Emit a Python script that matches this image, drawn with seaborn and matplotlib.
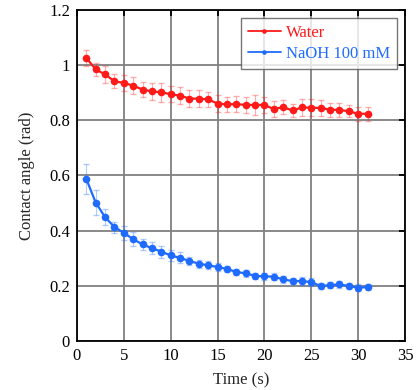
import numpy as np
import pandas as pd
import matplotlib
matplotlib.use("Agg")
import matplotlib.pyplot as plt
import seaborn as sns

time_s = list(range(1, 32))
water = [1.027, 0.985, 0.967, 0.942, 0.936, 0.926, 0.912, 0.905, 0.902, 0.895,
         0.890, 0.879, 0.879, 0.876, 0.861, 0.858, 0.859, 0.856, 0.856, 0.856,
         0.841, 0.848, 0.836, 0.847, 0.846, 0.845, 0.839, 0.838, 0.833, 0.824,
         0.824]
water_err = [0.030, 0.025, 0.030, 0.025, 0.028, 0.030, 0.028, 0.030, 0.035, 0.030,
             0.030, 0.030, 0.030, 0.028, 0.030, 0.028, 0.030, 0.030, 0.035, 0.028,
             0.028, 0.025, 0.025, 0.030, 0.030, 0.028, 0.025, 0.025, 0.022, 0.025,
             0.025]
naoh = [0.588, 0.502, 0.449, 0.413, 0.392, 0.369, 0.350, 0.336, 0.324, 0.310,
        0.301, 0.290, 0.280, 0.274, 0.268, 0.261, 0.250, 0.245, 0.236, 0.234,
        0.233, 0.223, 0.217, 0.217, 0.213, 0.199, 0.202, 0.205, 0.199, 0.193,
        0.195]
naoh_err = [0.055, 0.045, 0.030, 0.020, 0.025, 0.025, 0.020, 0.022, 0.022, 0.020,
            0.020, 0.015, 0.015, 0.015, 0.015, 0.012, 0.012, 0.012, 0.012, 0.012,
            0.012, 0.012, 0.010, 0.015, 0.015, 0.012, 0.012, 0.012, 0.010, 0.012,
            0.012]

red = "#ff1a1a"
blue = "#1f6bff"

df = pd.DataFrame({
    "Time (s)": time_s * 2,
    "Contact angle (rad)": water + naoh,
    "series": ["Water"] * len(time_s) + ["NaOH 100 mM"] * len(time_s),
})

sns.set_style("white")
plt.rcParams["font.family"] = ["Liberation Serif", "DejaVu Serif"]

fig = plt.figure(figsize=(4.18, 3.9), dpi=100)
ax = fig.add_axes([0.184, 0.126, 0.785, 0.848])

ax.errorbar(time_s, water, yerr=water_err, fmt="none", ecolor=red, alpha=0.35,
            elinewidth=0.8, capsize=2)
ax.errorbar(time_s, naoh, yerr=naoh_err, fmt="none", ecolor=blue, alpha=0.35,
            elinewidth=0.8, capsize=2)
sns.lineplot(data=df, x="Time (s)", y="Contact angle (rad)", hue="series",
             palette={"Water": red, "NaOH 100 mM": blue}, marker="o",
             markersize=5.5, markeredgewidth=0, linewidth=1.6, ax=ax)

ax.set_xlim(0, 35)
ax.set_ylim(0, 1.2)
ax.set_xticks(np.arange(0, 36, 5))
ax.set_yticks(np.arange(0, 1.21, 0.2))
ax.set_yticklabels(["0", "0.2", "0.4", "0.6", "0.8", "1", "1.2"])
ax.grid(True, color="#808080", linewidth=1.3)
ax.set_axisbelow(True)
for s in ax.spines.values():
    s.set_color("black")
    s.set_linewidth(1.3)
ax.tick_params(direction="in", length=4, width=1.3, top=True, right=True,
               labelsize=12, colors="black", pad=5)
ax.set_xlabel("Time (s)", fontsize=12, labelpad=6)
ax.set_ylabel("Contact angle (rad)", fontsize=12, labelpad=10)

leg = ax.legend(loc="upper right", fontsize=12, frameon=True, fancybox=False,
                edgecolor="#555555", handlelength=2.0, handletextpad=0.3,
                borderaxespad=0.5, markerscale=0.6, borderpad=0.4,
                labelspacing=0.3)
leg.get_frame().set_linewidth(1.0)
for line in leg.get_lines():
    line.set_linewidth(1.3)
for t, c in zip(leg.get_texts(), [red, blue]):
    t.set_color(c)

fig.savefig("out.png", dpi=100)
